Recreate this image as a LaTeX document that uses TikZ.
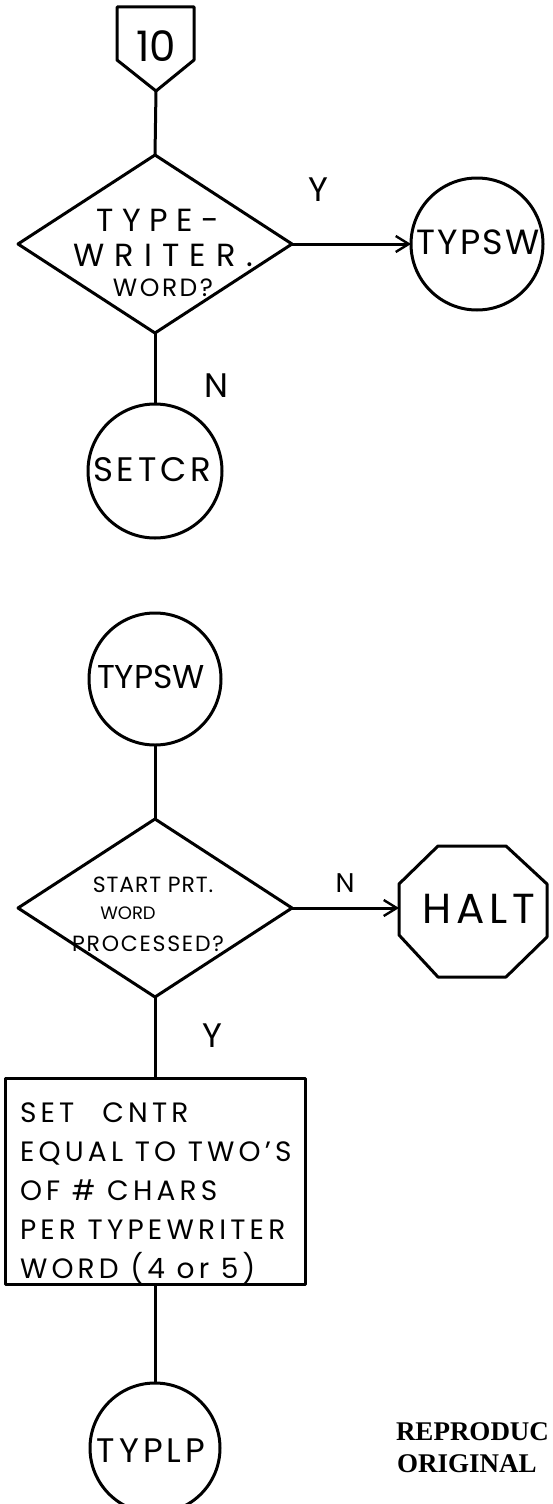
\documentclass[tikz,border=0pt]{standalone}
\usepackage{fontspec}
\setmainfont{Poppins}
\newfontfamily\stampfont{Liberation Serif}
\usetikzlibrary{arrows.meta,shapes.geometric}
% hand-lettered text: size, baseline skip, letter spacing
\newcommand\handfont[3]{\fontsize{#1}{#2}\selectfont\addfontfeatures{LetterSpace=#3}}
\begin{document}
\begin{tikzpicture}[x=1pt,y=-1pt,
  line width=3pt, line join=round,
  every node/.style={inner sep=0pt, outer sep=0pt},
  conn/.style={draw, circle, minimum size=132pt},
  decision/.style={draw, diamond, minimum width=274pt, minimum height=178pt},
  procbox/.style={draw, rectangle, minimum width=300pt, minimum height=206pt},
  flowarrow/.style={-{Straight Barb[length=13pt,width=16pt,line width=2.4pt]}},
  lbl/.style={font=\handfont{34}{34}{0}}]
\useasboundingbox (0,0) rectangle (552,1504);

% off-page connector 10
\draw (117,7) -- (194,7) -- (194,60) -- (156,91) -- (117,60) -- cycle;
\node[font=\handfont{42}{42}{0}] (off10) at (156,46) {10};
\coordinate (off10tip) at (156,91);

% first decision
\node[decision] (d1) at (155,244) {};
\node[font=\handfont{32}{32}{27}] (d1a) at (158,220) {TYPE-};
\node[font=\handfont{32}{32}{32}] (d1b) at (163,255) {WRITER.};
\node[font=\handfont{25}{25}{10}] (d1c) at (163,288) {WORD?};
\node[conn] (typsw1) at (477,244) {};
\node[font=\handfont{35}{35}{6}] (typsw1text) at (478,242) {TYPSW};
\node[conn, minimum size=134pt] (setcr) at (155,471) {};
\node[font=\handfont{34}{34}{11}] (setcrtext) at (152,470) {SETCR};
\node[lbl] (y1) at (318,190) {Y};
\node[lbl] (n1) at (216,386) {N};

\draw (off10tip) -- (d1.north);
\draw[flowarrow] (d1.east) -- (typsw1.west);
\draw (d1.south) -- (setcr.north);

% second decision
\node[conn] (typsw2) at (155,679) {};
\node[font=\handfont{33}{33}{0}] (typsw2text) at (151,677) {TYPSW};
\node[decision] (d2) at (155,908) {};
\node[font=\handfont{22}{22}{4}] (d2a) at (153,885) {START PRT.};
\node[font=\handfont{18}{18}{0}] (d2b) at (128,913) {WORD};
\node[font=\handfont{22}{22}{8}] (d2c) at (148,944) {PROCESSED?};
\node[minimum width=148pt, minimum height=131pt] (halt) at (473,911) {};
\draw (438,846) -- (506,846) -- (547,884) -- (547,937) -- (506,977)
      -- (438,977) -- (399,935) -- (399,884) -- cycle;
\node[font=\handfont{42}{42}{12}] (halttext) at (479,909) {HALT};
\node[font=\handfont{27}{27}{0}] (n2) at (345,883) {N};
\node[lbl] (y2) at (212,1036) {Y};

\draw (typsw2.south) -- (d2.north);
\draw[flowarrow] (d2.east) -- (d2.east -| halt.west);

% process box
\node[procbox] (setcntr) at (155,1181) {};
\node[anchor=west, align=left, font=\handfont{28}{39}{15}] (setcntrtext) at (20,1193)
  {SET\quad CNTR\\EQUAL TO TWO'S\\OF \# CHARS\\PER TYPEWRITER\\WORD (4 or 5)};
\node[conn, minimum size=130pt] (typlp) at (155,1448) {};
\node[font=\handfont{34}{34}{12}] (typlptext) at (151,1451) {TYPLP};

\draw (d2.south) -- (setcntr.north);
\draw (setcntr.south) -- (typlp.north);

% stamp
\node[anchor=base west, font=\stampfont\bfseries\fontsize{27}{27}\selectfont] (stamp1) at (396,1440) {REPRODUC};
\node[anchor=base west, font=\stampfont\bfseries\fontsize{27}{27}\selectfont] (stamp2) at (397,1472) {ORIGINAL};
\end{tikzpicture}
\end{document}
